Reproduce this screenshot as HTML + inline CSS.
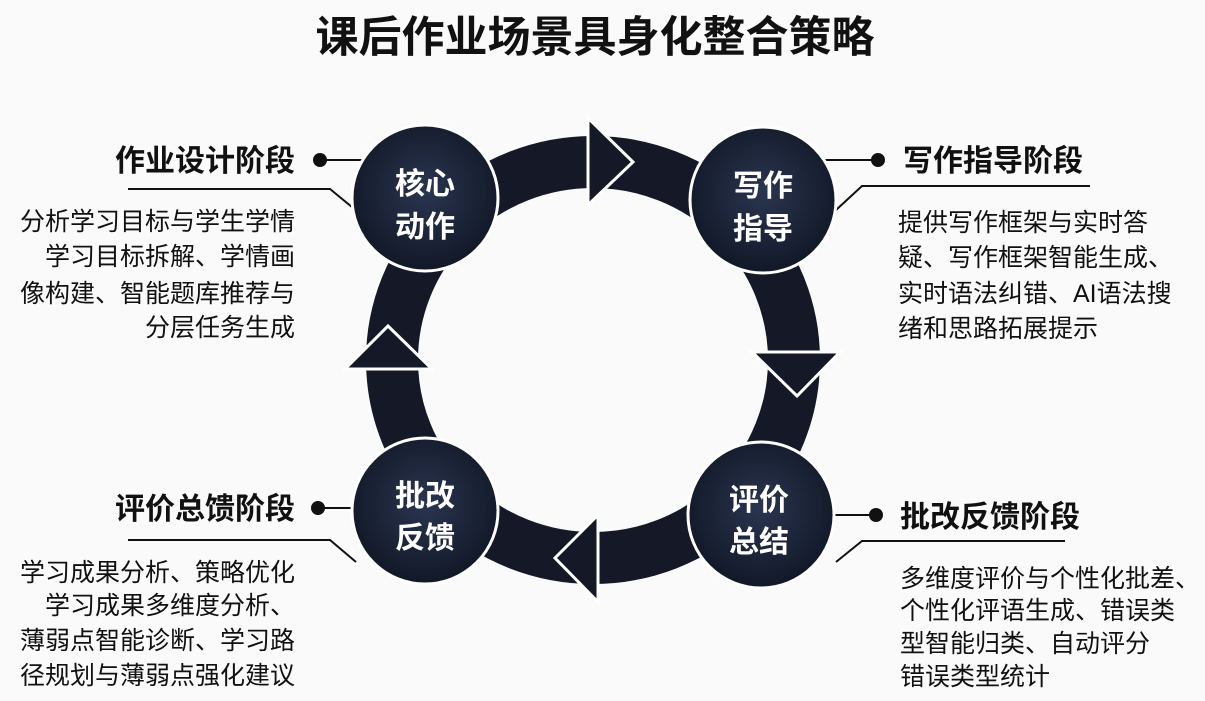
<!DOCTYPE html>
<html><head><meta charset="utf-8"><style>
html,body{margin:0;padding:0;background:#fafafa;}
svg{display:block;}
text{font-family:"Liberation Sans","Noto Sans CJK SC",sans-serif;fill:#111;}
.h{font-size:30px;font-weight:bold;}
.b{font-size:25px;}
.c{font-size:30px;font-weight:bold;fill:#fff;}
</style></head><body>
<svg width="1205" height="701" viewBox="0 0 1205 701">
<defs>
<radialGradient id="g" cx="50%" cy="45%" r="55%"><stop offset="0" stop-color="#2a3550"/><stop offset="1" stop-color="#111827"/></radialGradient>
</defs>
<rect width="1205" height="701" fill="#fafafa"/>
<text x="595" y="52" text-anchor="middle" style="font-size:43px;font-weight:bold">课后作业场景具身化整合策略</text>
<ellipse cx="593" cy="360" rx="201" ry="198" fill="none" stroke="#141827" stroke-width="52"/>
<g fill="#141827" stroke="#fff" stroke-width="3" stroke-linejoin="miter">
<polygon points="588,118 633,162 588,205"/>
<polygon points="752,352 840,352 797,396"/>
<polygon points="598,515 555,558 598,602"/>
<polygon points="345,369 388,326 432,369"/>
</g>
<g stroke="#111" stroke-width="2" fill="none">
<line x1="320" y1="160" x2="372" y2="160"/>
<polyline points="128,189 330,189 358,212"/>
<line x1="878" y1="160" x2="820" y2="160"/>
<polyline points="1090,186 862,186 836,210"/>
<line x1="318" y1="508" x2="370" y2="508"/>
<polyline points="128,540 330,540 356,562"/>
<line x1="876" y1="515" x2="820" y2="515"/>
<polyline points="1065,541 862,541 836,562"/>
</g>
<g fill="#111"><circle cx="320" cy="160" r="7"/><circle cx="878" cy="160" r="7"/><circle cx="318" cy="508" r="7"/><circle cx="876" cy="515" r="7"/></g>
<g fill="url(#g)" stroke="#fff" stroke-width="3">
<circle cx="425" cy="198" r="73"/><circle cx="763" cy="200" r="73"/>
<circle cx="425" cy="511" r="73"/><circle cx="761" cy="515" r="73"/>
</g>
<g text-anchor="middle">
<text class="c" x="425" y="194">核心</text><text class="c" x="425" y="237">动作</text>
<text class="c" x="763" y="196">写作</text><text class="c" x="763" y="239">指导</text>
<text class="c" x="425" y="506">批改</text><text class="c" x="425" y="548">反馈</text>
<text class="c" x="759" y="510">评价</text><text class="c" x="759" y="552">总结</text>
</g>
<text class="h" x="295" y="171" text-anchor="end">作业设计阶段</text>
<g text-anchor="end">
<text class="b" x="295" y="230">分析学习目标与学生学情</text>
<text class="b" x="295" y="265">学习目标拆解、学情画</text>
<text class="b" x="295" y="302">像构建、智能题库推荐与</text>
<text class="b" x="295" y="336">分层任务生成</text>
</g>
<text class="h" x="903" y="171">写作指导阶段</text>
<text class="b" x="898" y="231">提供写作框架与实时答</text>
<text class="b" x="898" y="266">疑、写作框架智能生成、</text>
<text class="b" x="898" y="302">实时语法纠错、AI语法搜</text>
<text class="b" x="898" y="337">绪和思路拓展提示</text>
<text class="h" x="295" y="519" text-anchor="end">评价总馈阶段</text>
<g text-anchor="end">
<text class="b" x="295" y="581">学习成果分析、策略优化</text>
<text class="b" x="295" y="614">学习成果多维度分析、</text>
<text class="b" x="295" y="649">薄弱点智能诊断、学习路</text>
<text class="b" x="295" y="684">径规划与薄弱点强化建议</text>
</g>
<text class="h" x="900" y="527">批改反馈阶段</text>
<text class="b" x="900" y="587">多维度评价与个性化批差、</text>
<text class="b" x="900" y="619">个性化评语生成、错误类</text>
<text class="b" x="900" y="652">型智能归类、自动评分</text>
<text class="b" x="900" y="685">错误类型统计</text>
</svg>
</body></html>
